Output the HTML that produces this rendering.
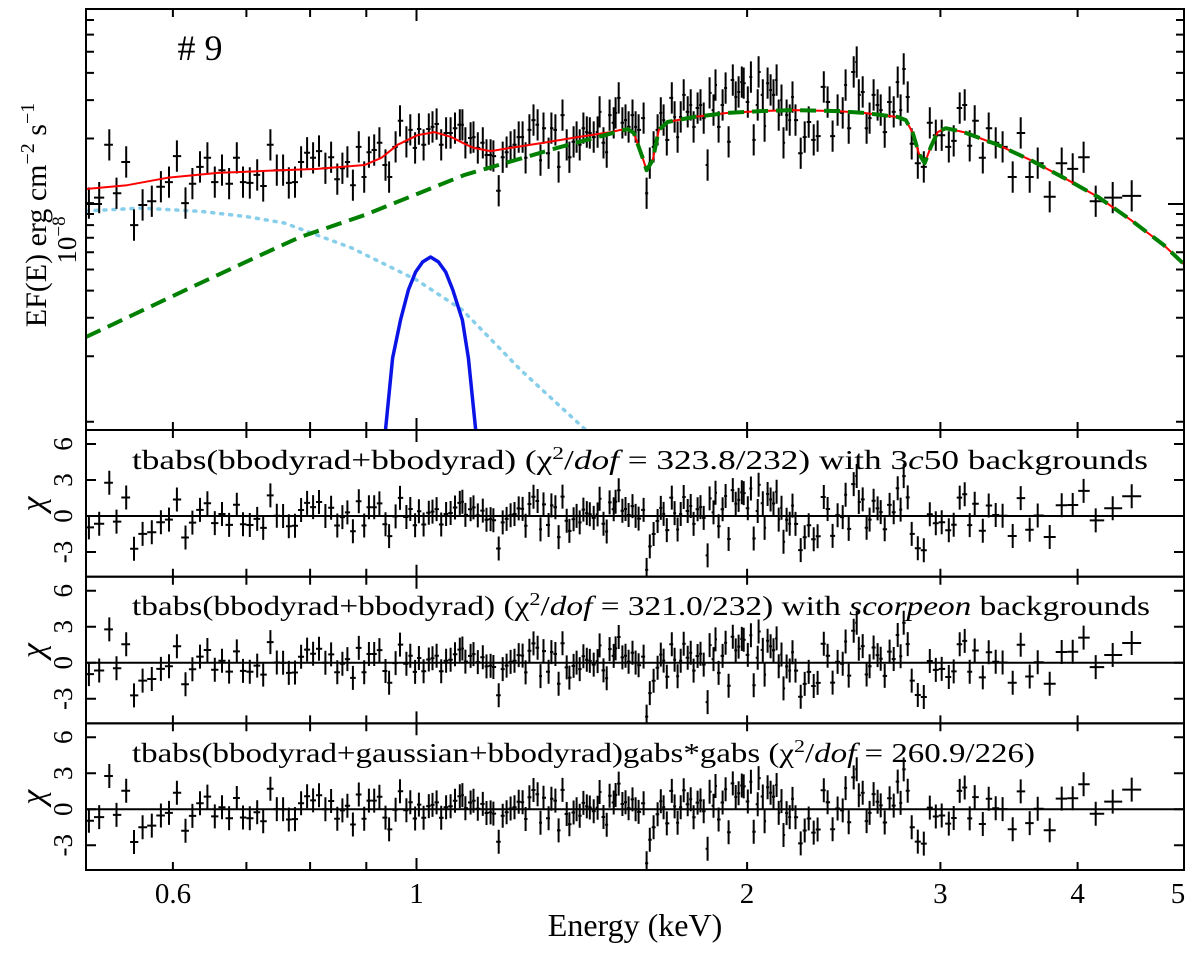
<!DOCTYPE html>
<html><head><meta charset="utf-8"><title>Spectrum #9</title>
<style>
html,body{margin:0;padding:0;background:#fff;}
svg{display:block;font-family:"Liberation Serif",serif;}
</style></head>
<body>
<svg id="chart" width="1200" height="953" viewBox="0 0 1200 953" xmlns="http://www.w3.org/2000/svg">
<defs>
<clipPath id="clipTop"><rect x="86" y="9" width="1098" height="421"/></clipPath>
<clipPath id="clipR0"><rect x="86" y="430" width="1098" height="146.7"/></clipPath>
<clipPath id="clipR1"><rect x="86" y="576.7" width="1098" height="146.7"/></clipPath>
<clipPath id="clipR2"><rect x="86" y="723.3" width="1098" height="146.7"/></clipPath>
</defs>
<g id="top-panel"></g>
<g id="res-panels"></g>
<g id="axes"></g>
<text x="200" y="60" font-size="36" text-anchor="middle"># 9</text>
<text transform="translate(46,215) rotate(-90)" font-size="30" text-anchor="middle">EF(E) erg cm<tspan dy="-12" font-size="20">−2</tspan><tspan dy="12"> s</tspan><tspan dy="-12" font-size="20">−1</tspan></text>
<text transform="translate(76,240) rotate(-90)" font-size="27" text-anchor="middle">10<tspan dy="-11" font-size="19">−8</tspan></text>
<text x="635" y="936" font-size="32" text-anchor="middle">Energy (keV)</text>
<text x="132" y="469" font-size="27" textLength="1016" lengthAdjust="spacingAndGlyphs">tbabs(bbodyrad+bbodyrad) (χ<tspan dy="-10" font-size="18">2</tspan><tspan dy="10">/</tspan><tspan font-style="italic">dof</tspan> = 323.8/232) with 3<tspan font-style="italic">c</tspan>50 backgrounds</text>
<text x="132" y="615" font-size="27" textLength="1018" lengthAdjust="spacingAndGlyphs">tbabs(bbodyrad+bbodyrad) (χ<tspan dy="-10" font-size="18">2</tspan><tspan dy="10">/</tspan><tspan font-style="italic">dof</tspan> = 321.0/232) with <tspan font-style="italic">scorpeon</tspan> backgrounds</text>
<text x="132" y="762" font-size="27" textLength="903" lengthAdjust="spacingAndGlyphs">tbabs(bbodyrad+gaussian+bbodyrad)gabs*gabs (χ<tspan dy="-10" font-size="18">2</tspan><tspan dy="10">/</tspan><tspan font-style="italic">dof</tspan> = 260.9/226)</text>
</svg>
<script>
// ---- data (energy keV, flux in 1e-8 erg cm^-2 s^-1) ----
const energy = [0.503,0.514,0.525,0.533,0.544,0.553,0.563,0.574,0.585,0.595,0.605,0.616,0.625,0.635,0.645,0.655,0.665,0.675,0.686,0.695,0.705,0.716,0.725,0.736,0.746,0.756,0.765,0.775,0.785,0.795,0.805,0.815,0.826,0.836,0.847,0.856,0.865,0.875,0.886,0.896,0.905,0.915,0.925,0.937,0.944,0.957,0.966,0.979,0.987,0.997,1.005,1.015,1.026,1.034,1.043,1.053,1.064,1.074,1.084,1.095,
1.101,1.108,1.120,1.127,1.137,1.149,1.158,1.168,1.175,1.188,1.198,1.208,1.218,1.228,1.239,1.249,1.257,1.267,1.278,1.289,1.297,1.305,1.319,1.327,1.338,1.347,1.358,1.370,1.378,1.390,1.399,1.408,1.419,1.429,1.438,1.450,1.462,1.468,1.480,1.490,1.499,1.512,1.518,1.528,1.540,1.550,1.560,1.573,1.583,1.593,1.610,1.620,1.631,1.644,1.658,1.669,1.679,1.690,1.708,1.718,1.729,1.740,1.751,1.766,1.777,1.788,1.803,1.814,1.826,1.841,1.849,1.864,1.872,1.884,1.900,1.912,1.924,1.941,1.953,1.965,1.978,1.986,2.003,2.016,2.028,2.045,2.049,2.067,2.075,2.088,2.101,2.114,2.128,2.137,2.150,2.159,2.173,2.187,2.200,2.214,2.238,2.257,2.276,2.300,2.319,2.349,2.368,2.393,2.418,
2.444,2.459,2.475,2.501,2.517,2.528,2.549,2.570,2.586,2.608,2.630,2.647,2.669,2.697,2.720,2.743,2.760,2.778,2.801,2.825,2.861,2.897,2.934,2.971,3.008,3.053,3.085,3.124,3.157,3.190,3.224,3.279,3.320,3.369,3.418,3.491,3.550,3.618,3.679,3.773,3.869,3.959,4.051,4.155,4.306,4.481];
const flux = [1.01,1.07,1.87,1.12,1.56,0.80,0.99,1.03,1.20,1.26,1.66,1.01,1.24,1.48,1.63,1.26,1.43,1.24,1.63,1.26,1.25,1.36,1.21,1.87,1.43,1.43,1.25,1.26,1.56,1.72,1.63,1.75,1.46,1.64,1.30,1.46,1.56,1.22,1.83,1.33,1.73,1.77,1.91,1.51,1.33,1.83,2.41,1.93,2.19,1.81,2.21,1.87,2.21,2.26,2.33,1.87,2.12,2.12,2.23,2.31,
2.31,1.91,2.01,2.03,1.81,1.91,1.68,1.68,1.66,1.15,1.64,1.73,1.83,1.87,2.03,2.03,1.63,2.19,2.43,2.31,1.59,2.23,1.71,2.23,2.19,1.48,2.56,1.87,1.64,1.93,2.03,1.87,2.23,2.14,2.12,2.03,2.14,2.65,1.91,1.73,2.56,2.36,2.62,3.07,2.36,2.43,2.26,2.56,2.26,2.19,2.48,1.12,1.54,1.83,2.19,2.62,2.43,1.97,3.07,2.51,2.03,2.51,3.17,2.65,2.85,2.26,2.76,2.85,2.48,1.51,3.24,2.70,3.52,2.26,2.85,3.41,1.93,3.71,3.10,3.27,3.63,3.59,2.94,3.83,1.97,2.85,4.04,3.17,2.28,3.59,3.34,3.17,3.71,2.56,3.00,1.91,2.56,2.43,3.10,2.43,1.71,2.03,2.38,1.97,2.05,3.45,2.94,2.05,2.70,
2.62,3.52,2.23,4.04,4.49,3.17,3.27,2.23,2.48,3.17,2.85,2.70,2.14,2.94,2.65,3.63,2.70,4.17,3.10,1.89,1.54,1.48,2.36,2.07,2.07,1.83,1.95,2.76,2.85,1.85,2.41,1.63,2.23,1.91,1.83,1.33,2.12,1.33,1.54,1.08,1.54,1.45,1.64,1.03,1.07,1.09];
const fluxRelErr = 0.18;
// total model (red)
const modelE = [0.498,0.545,0.593,0.659,0.732,0.812,0.897,0.929,0.961,1.002,1.038,1.076,1.106,1.127,1.168,1.218,1.305,1.402,1.502,1.560,1.577,1.606,1.620,1.641,1.662,1.693,1.788,1.920,2.058,2.205,2.418,2.554,2.743,2.790,2.831,2.867,2.903,2.940,2.983,3.034,3.150,3.383,3.626,3.886,4.172,4.472,4.792,5.02];
const modelF = [1.17,1.22,1.32,1.39,1.42,1.45,1.51,1.63,1.87,2.07,2.14,2.03,1.89,1.81,1.75,1.81,1.91,2.03,2.14,2.23,2.12,1.64,1.43,1.59,2.19,2.38,2.51,2.62,2.67,2.70,2.67,2.62,2.51,2.43,2.12,1.71,1.54,1.83,2.14,2.23,2.14,1.87,1.59,1.32,1.08,0.845,0.648,0.519];
// continuum model without absorption lines (used for chi residuals)
const contE = [0.498,0.545,0.593,0.659,0.732,0.812,0.897,0.929,0.961,1.002,1.038,1.076,1.106,1.127,1.168,1.218,1.305,1.402,1.502,1.560,1.693,1.788,1.920,2.058,2.205,2.418,2.554,2.743,2.790,3.034,3.150,3.383,3.626,3.886,4.172,4.472,4.792,5.02];
const contF = [1.17,1.22,1.32,1.39,1.42,1.45,1.51,1.63,1.87,2.07,2.14,2.03,1.89,1.81,1.75,1.81,1.91,2.03,2.14,2.23,2.38,2.51,2.62,2.67,2.70,2.67,2.62,2.51,2.43,2.23,2.14,1.87,1.59,1.32,1.08,0.845,0.648,0.519];
// hot blackbody (green dashed)
const bb2E = [0.500,0.636,0.738,0.784,0.897,1.106,1.353,1.557,1.577,1.606,1.620,1.641,1.662,1.693,1.788,1.920,2.058,2.205,2.418,2.554,2.743,2.790,2.831,2.867,2.903,2.940,2.983,3.034,3.150,3.383,3.626,3.886,4.172,4.472,4.792,5.02];
const bb2F = [0.245,0.434,0.615,0.706,0.890,1.36,1.83,2.21,2.12,1.64,1.43,1.59,2.19,2.38,2.51,2.62,2.67,2.70,2.67,2.62,2.51,2.43,2.12,1.71,1.54,1.83,2.14,2.23,2.14,1.87,1.59,1.32,1.08,0.845,0.648,0.519];
// cool blackbody (light blue dotted)
const bb1E = [0.500,0.561,0.636,0.700,0.758,0.873,1.000,1.101,1.244,1.426];
const bb1F = [0.929,0.958,0.925,0.875,0.818,0.628,0.448,0.326,0.173,0.0916];
// gaussian (blue)
const gauE = [0.937,0.951,0.967,0.983,0.998,1.013,1.030,1.047,1.063,1.079,1.101,1.115,1.132];
const gauF = [0.0916,0.196,0.293,0.403,0.487,0.542,0.571,0.542,0.487,0.403,0.293,0.196,0.0916];
const residTicks = [-3,0,3,6];
const xTickLabels = [0.6,1,2,3,4,5];
const chiScale = 0.16;

// ---- axes ----
const X0=86, X1=1184, EMIN=0.5, EMAX=5;
const xs = e => X0 + (Math.log10(e)-Math.log10(EMIN))/(Math.log10(EMAX)-Math.log10(EMIN))*(X1-X0);
const Y_UNIT=204, DEC=217.7, TOPY=9, BOTY=430;
const ys = f => Y_UNIT - Math.log10(f)*DEC;
const RT=[430,576.7,723.3], RH=146.7;
const ry = (p,v) => RT[p] + 86 - v*12;
const NS="http://www.w3.org/2000/svg";
function mk(tag, attrs, parent){const el=document.createElementNS(NS,tag);for(const k in attrs)el.setAttribute(k,attrs[k]);parent.appendChild(el);return el;}
function interpLog(E, arrE, arrF){
  if(E<=arrE[0])return arrF[0];
  for(let i=1;i<arrE.length;i++){if(E<=arrE[i]){const t=(Math.log(E)-Math.log(arrE[i-1]))/(Math.log(arrE[i])-Math.log(arrE[i-1]));return Math.exp(Math.log(arrF[i-1])+t*(Math.log(arrF[i])-Math.log(arrF[i-1])));}}
  return arrF[arrF.length-1];
}
const topG=document.getElementById('top-panel');
const resG=document.getElementById('res-panels');
const axesG=document.getElementById('axes');

const lo=[],hi=[];
for(let i=0;i<energy.length;i++){
  const l = i>0? Math.sqrt(energy[i]*energy[i-1]) : energy[i]*energy[i]/Math.sqrt(energy[i]*energy[i+1]);
  const h = i<energy.length-1? Math.sqrt(energy[i]*energy[i+1]) : energy[i]*energy[i]/Math.sqrt(energy[i]*energy[i-1]);
  lo.push(l);hi.push(h);
}

const gTop=mk('g',{'clip-path':'url(#clipTop)'},topG);
function curve(arrE,arrF,attrs,name){
  const d=arrE.map((e,i)=>(i?'L':'M')+xs(e).toFixed(1)+','+ys(arrF[i]).toFixed(1)).join('');
  const p=mk('path',Object.assign({d:d,fill:'none','stroke-linejoin':'round'},attrs),gTop);
  
  
}
curve(bb1E,bb1F,{stroke:'#87ceeb','stroke-width':3.5,'stroke-dasharray':'2,7','stroke-linecap':'round'},'cool-blackbody-curve');
curve(gauE,gauF,{stroke:'#0a14e6','stroke-width':3.5},'gaussian-curve');

const gData=mk('g',{stroke:'#000','stroke-width':2},gTop);


energy.forEach((e,i)=>{
  const x=xs(e), y=ys(flux[i]);
  const p=mk('path',{d:`M${xs(lo[i]).toFixed(1)},${y.toFixed(1)}H${xs(hi[i]).toFixed(1)}M${x.toFixed(1)},${ys(flux[i]*(1+fluxRelErr)).toFixed(1)}V${ys(flux[i]/(1+fluxRelErr)).toFixed(1)}`},gData);
  
  
});
curve(modelE,modelF,{stroke:'#ff0000','stroke-width':2},'total-model-curve');
curve(bb2E,bb2F,{stroke:'#008000','stroke-width':4,'stroke-dasharray':'16,8'},'hot-blackbody-curve');

for(let p=0;p<3;p++){
  const g=mk('g',{'clip-path':`url(#clipR${p})`},resG);
  
  
  const zl=mk('line',{x1:X0,x2:X1,y1:ry(p,0),y2:ry(p,0),stroke:'#000','stroke-width':2},g);
  
  
  energy.forEach((e,i)=>{
    const chi=Math.log(flux[i]/interpLog(e,contE,contF))/chiScale;
    const x=xs(e), y=ry(p,chi);
    const r=mk('path',{d:`M${xs(lo[i]).toFixed(1)},${y.toFixed(1)}H${xs(hi[i]).toFixed(1)}M${x.toFixed(1)},${ry(p,chi+1).toFixed(1)}V${ry(p,chi-1).toFixed(1)}`,stroke:'#000','stroke-width':2},g);
    
    
  });
}

function frame(y0,y1,name){
  const r=mk('rect',{x:X0,y:y0,width:X1-X0,height:y1-y0,fill:'none',stroke:'#000','stroke-width':2},axesG);
  
  
}
frame(TOPY,BOTY,'spectrum-frame');
for(let p=0;p<3;p++)frame(RT[p],RT[p]+RH,'residual-frame-'+(p+1));
const minorE=[0.6,0.7,0.8,0.9,1,2,3,4];
const majorE=[1];
const panels=[[TOPY,BOTY],[RT[0],RT[0]+RH],[RT[1],RT[1]+RH],[RT[2],RT[2]+RH]];
let td='';
panels.forEach(([a,b])=>{
  minorE.forEach(e=>{const L=majorE.includes(e)?12:8;const x=xs(e).toFixed(1);td+=`M${x},${a}v${L}M${x},${b}v${-L}`;});
});
for(let dec=-1;dec<=0;dec++){for(let k=1;k<=9;k++){const v=k*Math.pow(10,dec);const y=ys(v);if(y<TOPY+1||y>BOTY-1)continue;const L=(k===1&&dec===0)?16:8;td+=`M${X0},${y.toFixed(1)}h${L}M${X1},${y.toFixed(1)}h${-L}`;}}
for(let p=0;p<3;p++){residTicks.forEach(v=>{const y=ry(p,v).toFixed(1);td+=`M${X0},${y}h10M${X1},${y}h-10`;});}
const tk=mk('path',{d:td,stroke:'#000','stroke-width':2,fill:'none'},axesG);



xTickLabels.forEach(v=>{
  const t=mk('text',{x:xs(v)-(v===5?6:0),y:903,'font-size':29,'text-anchor':'middle'},axesG);
  t.textContent=String(v);
  
  
});
for(let p=0;p<3;p++){
  residTicks.forEach(v=>{
    const t=mk('text',{transform:`translate(72,${ry(p,v).toFixed(1)}) rotate(-90)`,'font-size':27,'text-anchor':'middle'},axesG);
    t.textContent=String(v);
    
    
  });
  const c=mk('text',{transform:`translate(44,${ry(p,1)}) rotate(-90)`,'font-size':34,'text-anchor':'middle','font-style':'italic'},axesG);
  c.textContent='χ';
  
  
}
</script>
</body></html>
